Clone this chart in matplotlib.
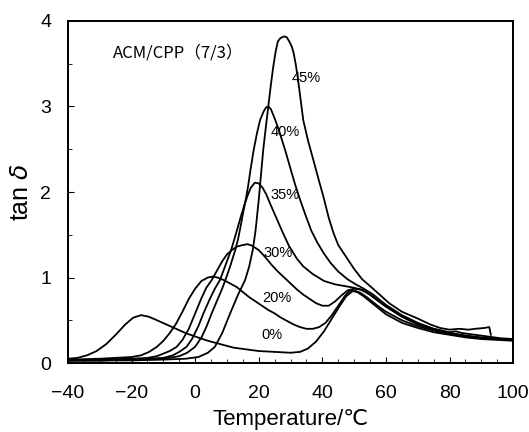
import matplotlib
matplotlib.use("Agg")
import matplotlib.pyplot as plt
from matplotlib.patches import Rectangle
from matplotlib.ticker import MultipleLocator

plt.rcParams["font.family"] = ["Liberation Sans", "DejaVu Sans"]

# tan delta vs temperature for ACM/CPP (7/3), curves labelled by content
t_0 = [-40, -37, -34, -31, -28, -25, -22, -19.5, -17, -14.5, -12, -9, -6, -3, 0, 4, 8, 12, 16,
       20, 25, 30, 33, 35.5, 38, 40.5, 43, 45.5, 47.5, 49.5, 51, 53, 56, 60, 65, 70, 75, 80, 85, 90, 95, 100]
y_0 = [0.05, 0.06, 0.09, 0.14, 0.22, 0.33, 0.45, 0.53, 0.56, 0.54, 0.50, 0.45, 0.40, 0.35, 0.31, 0.26, 0.22, 0.18, 0.16,
       0.14, 0.13, 0.12, 0.13, 0.17, 0.25, 0.37, 0.52, 0.67, 0.78, 0.84, 0.83, 0.78, 0.69, 0.57, 0.47, 0.41, 0.36, 0.33, 0.30, 0.28, 0.27, 0.26]

t_20 = [-40, -30, -25, -20, -17, -14.5, -12, -10, -8, -6, -4, -2, 0, 2, 4, 5.5, 7, 9, 11, 13, 15, 17, 19, 21, 23,
        25, 27, 29, 31, 33, 35, 37, 39, 41, 43, 45, 47, 48.5, 50, 52, 54, 57, 60, 65, 70, 75, 80, 85, 90, 95, 100]
y_20 = [0.04, 0.05, 0.06, 0.07, 0.09, 0.13, 0.19, 0.26, 0.35, 0.46, 0.60, 0.75, 0.87, 0.96, 1.00, 1.01, 1.00, 0.97, 0.93, 0.89, 0.83, 0.77, 0.72, 0.67, 0.62,
        0.58, 0.53, 0.49, 0.45, 0.42, 0.40, 0.40, 0.42, 0.47, 0.56, 0.67, 0.78, 0.84, 0.85, 0.82, 0.77, 0.68, 0.60, 0.50, 0.43, 0.38, 0.34, 0.31, 0.29, 0.28, 0.27]

t_30 = [-40, -30, -20, -15, -12, -10, -8, -5.8, -4, -2, 0, 2, 3.5, 5.2, 7, 8.5, 10, 11.5, 13, 15, 16.5, 18, 20, 22, 24, 26, 28,
        30, 32, 34, 36, 38, 40, 42, 44, 46, 48, 50, 52, 55, 60, 65, 70, 75, 80, 85, 90, 95, 100]
y_30 = [0.03, 0.04, 0.05, 0.06, 0.08, 0.11, 0.14, 0.19, 0.27, 0.40, 0.58, 0.76, 0.88, 0.97, 1.09, 1.19, 1.27, 1.32, 1.36, 1.38, 1.39, 1.37, 1.32, 1.24, 1.15, 1.07, 1.00,
        0.93, 0.86, 0.80, 0.75, 0.70, 0.67, 0.67, 0.72, 0.79, 0.85, 0.87, 0.86, 0.80, 0.66, 0.54, 0.45, 0.39, 0.35, 0.32, 0.29, 0.28, 0.27]

t_35 = [-40, -30, -20, -14, -10, -7, -5, -2.7, -1, 1, 2.6, 4.5, 6.2, 7.8, 9.5, 11.3, 12.5, 13.5, 14.5, 15.5, 16.5, 17.5, 18.8,
        20, 21.2, 22.4, 23.5, 25.5, 27.5, 29.5, 32, 34, 37, 40.5, 44, 47, 50, 53, 56, 60, 65, 70, 75, 80, 85, 90, 95, 100]
y_35 = [0.03, 0.03, 0.04, 0.05, 0.06, 0.09, 0.13, 0.19, 0.28, 0.43, 0.58, 0.74, 0.87, 0.97, 1.14, 1.32, 1.47, 1.60, 1.73, 1.85, 1.96, 2.05, 2.11,
        2.10, 2.05, 1.97, 1.87, 1.70, 1.53, 1.37, 1.22, 1.13, 1.04, 0.96, 0.92, 0.90, 0.88, 0.85, 0.77, 0.66, 0.55, 0.46, 0.40, 0.35, 0.32, 0.30, 0.28, 0.27]

t_40 = [-40, -30, -20, -12, -8, -5, -2.5, 0, 2, 3.5, 5.2, 7, 8.5, 9.5, 11, 12.6, 13.5, 14.3, 15.1, 15.9, 16.7, 17.4, 18.4, 19.4, 20.4,
        21.5, 22.3, 23, 23.8, 24.8, 26, 27.2, 28.3, 30, 31.5, 33, 34.8, 36.5, 38.4, 40.5, 42.6, 45, 47.9, 50.5, 53, 56, 60, 65, 70,
        75, 80, 82, 84, 88, 92, 96, 100]
y_40 = [0.03, 0.03, 0.04, 0.05, 0.06, 0.08, 0.12, 0.19, 0.30, 0.42, 0.58, 0.74, 0.87, 0.97, 1.13, 1.32, 1.45, 1.60, 1.76, 1.91, 2.08, 2.26, 2.49, 2.68, 2.84,
        2.94, 2.99, 3.00, 2.97, 2.88, 2.76, 2.62, 2.49, 2.27, 2.08, 1.91, 1.72, 1.55, 1.41, 1.28, 1.17, 1.07, 0.98, 0.92, 0.87, 0.80, 0.68, 0.56, 0.47,
        0.40, 0.36, 0.37, 0.35, 0.33, 0.31, 0.29, 0.28]

t_45 = [-40, -30, -20, -10, -3, 1, 4, 6.2, 8.5, 11, 13.5, 15.7, 17, 18.1, 19, 20, 20.7, 21.4, 22.2, 23, 23.7, 24.5, 25.3, 26, 26.8,
        28, 28.8, 29.6, 30.4, 31, 31.6, 32.3, 33.2, 34, 35.5, 37.2, 38.8, 40.3, 42, 43.5, 45, 47.5, 50, 52.5, 55, 58, 61, 65, 70,
        74, 77, 80, 83, 86, 88, 91, 92.5, 93]
y_45 = [0.03, 0.03, 0.03, 0.04, 0.05, 0.07, 0.12, 0.19, 0.35, 0.58, 0.80, 0.97, 1.13, 1.32, 1.55, 1.91, 2.20, 2.49, 2.75, 3.00, 3.22, 3.45, 3.64, 3.76, 3.80,
        3.82, 3.81, 3.76, 3.70, 3.62, 3.50, 3.33, 3.07, 2.84, 2.60, 2.37, 2.15, 1.95, 1.70, 1.52, 1.38, 1.24, 1.10, 0.98, 0.90, 0.80, 0.70, 0.60, 0.52,
        0.45, 0.41, 0.39, 0.40, 0.39, 0.40, 0.41, 0.42, 0.33]

series = [(t_0, y_0), (t_20, y_20), (t_30, y_30), (t_35, y_35), (t_40, y_40), (t_45, y_45)]

curve_labels = ["0%", "20%", "30%", "35%", "40%", "45%"]
label_x = [20.9, 21.0, 21.5, 23.8, 23.8, 30.4]
label_y = [0.33, 0.76, 1.29, 1.96, 2.70, 3.33]

fig = plt.figure(figsize=(5.29, 4.32), dpi=100)
ax = fig.add_axes([0.1285, 0.1597, 0.8415, 0.7917])

for t, y in series:
    ax.plot(t, y, color="black", lw=1.3)

for lab, lx, ly in zip(curve_labels, label_x, label_y):
    ax.text(lx, ly, lab, fontsize=10.5, ha="left", va="center")

ax.text(-25.8, 3.62, "ACM/CPP（7/3）", fontsize=12, ha="left", va="center",
        family=["Noto Sans CJK JP", "DejaVu Sans"])

ax.set_xlim(-40, 100)
ax.set_ylim(0, 4)
ax.xaxis.set_major_locator(MultipleLocator(20))
ax.xaxis.set_minor_locator(MultipleLocator(5))
ax.yaxis.set_major_locator(MultipleLocator(1))
ax.yaxis.set_minor_locator(MultipleLocator(0.5))
ax.tick_params(which="both", direction="in", labelsize=14, top=False, right=False)
ax.tick_params(which="major", length=4)
ax.tick_params(which="minor", length=3)
ax.tick_params(axis="x", which="major", pad=16)
ax.tick_params(axis="y", which="major", pad=12)

for sp in ax.spines.values():
    sp.set_linewidth(1.2)

# closed box around the plot area
ax.add_patch(Rectangle((0, 0), 1, 1, transform=ax.transAxes, fill=False,
                       edgecolor="black", lw=1.4, clip_on=False, zorder=5))

ax.set_xlabel("Temperature/℃", fontsize=16, labelpad=5)
ax.set_ylabel(r"tan $\delta$", fontsize=18, labelpad=5)

fig.savefig("out.png", dpi=100)
